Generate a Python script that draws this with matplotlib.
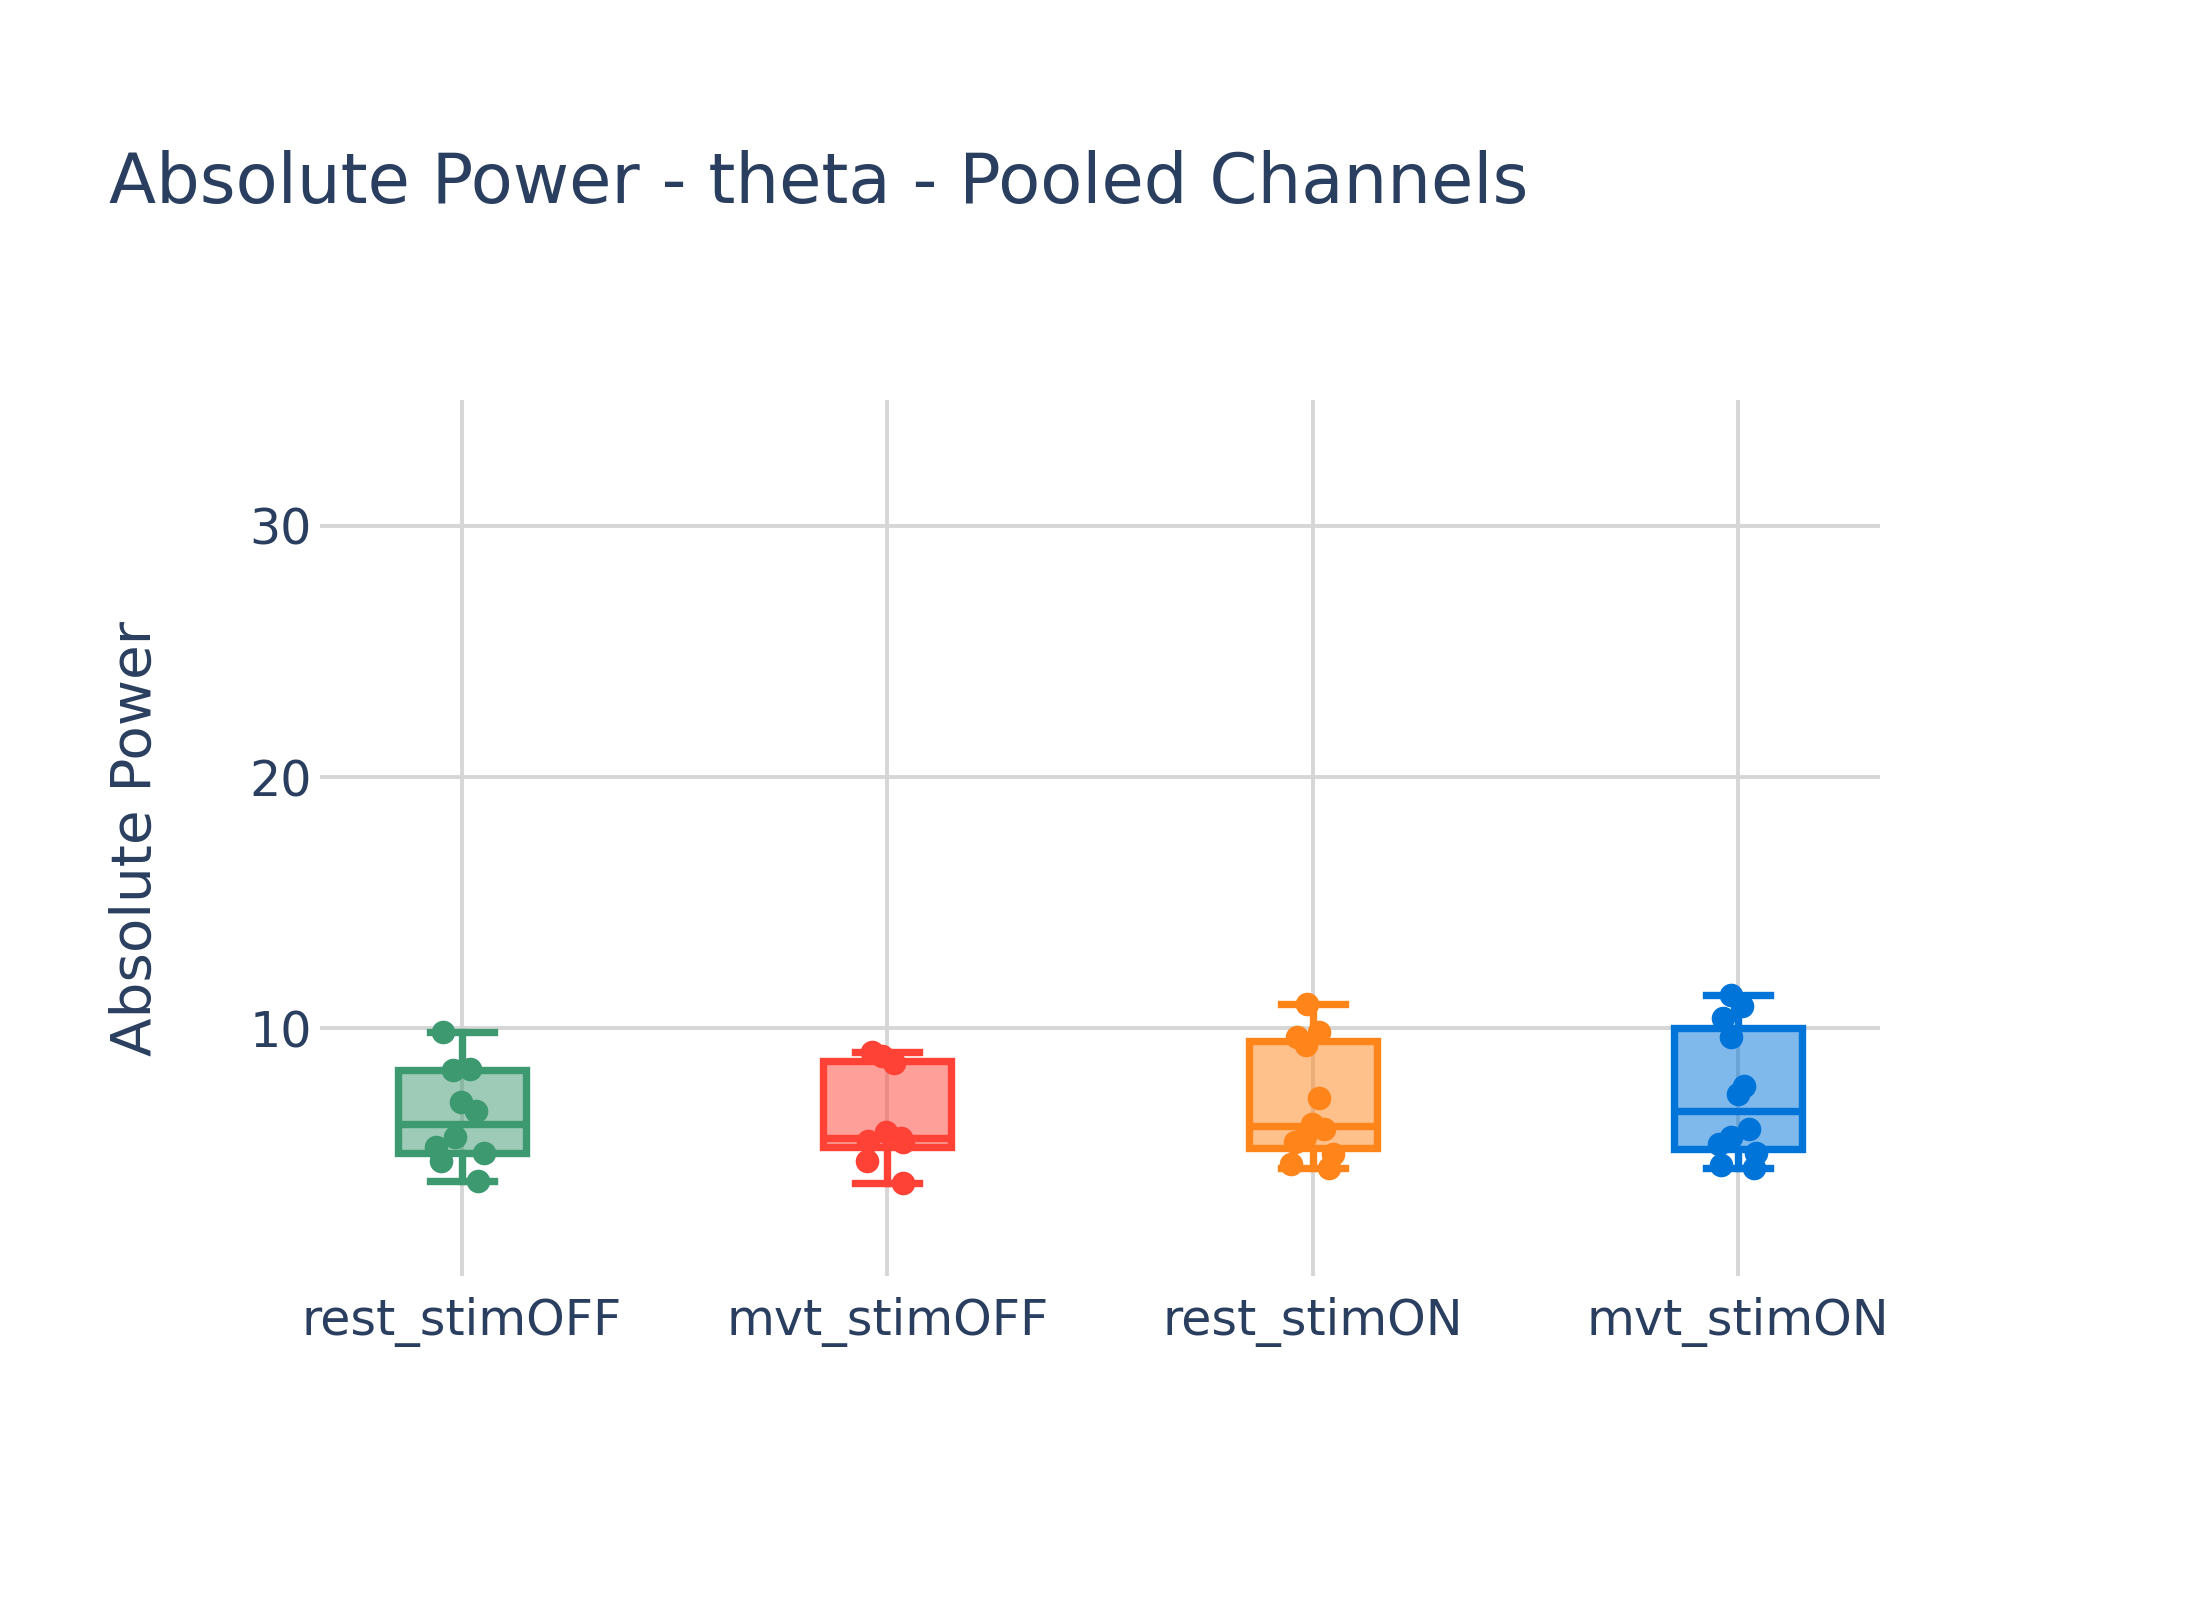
import numpy as np
import matplotlib.pyplot as plt
from matplotlib.colors import to_rgba

plt.rcParams['font.family'] = ['DejaVu Sans']

conditions = ['rest_stimOFF', 'mvt_stimOFF', 'rest_stimON', 'mvt_stimON']
colors = ['#3D9970', '#FF4136', '#FF851B', '#0074D9']

# absolute theta power per recording
rest_stimoff = [9.84, 8.36, 8.40, 7.07, 6.70, 5.67, 5.28, 4.74, 5.04, 3.92]
mvt_stimoff = [9.07, 8.89, 8.62, 5.87, 5.52, 5.65, 5.47, 4.72, 3.85]
rest_stimon = [10.96, 9.87, 9.66, 9.33, 7.23, 6.21, 6.01, 5.67, 5.48, 5.01, 4.60, 4.45]
mvt_stimon = [11.33, 10.89, 10.40, 9.66, 7.70, 7.38, 6.01, 5.67, 5.40, 5.04, 4.55, 4.45]

# horizontal jitter of the points (plotly jitter, as seen in the picture)
rest_stimoff_jit = [-0.045, -0.020, 0.018, -0.002, 0.034, -0.017, -0.060, -0.049, 0.052, 0.037]
mvt_stimoff_jit = [-0.037, -0.012, 0.015, -0.003, -0.046, 0.032, 0.038, -0.048, 0.038]
rest_stimon_jit = [-0.014, 0.014, -0.036, -0.015, 0.015, -0.002, 0.027, -0.018, -0.041, 0.048, -0.050, 0.039]
mvt_stimon_jit = [-0.017, 0.010, -0.035, -0.017, 0.013, -0.001, 0.025, -0.017, -0.045, 0.041, -0.040, 0.037]

groups = [rest_stimoff, mvt_stimoff, rest_stimon, mvt_stimon]
jitters = [rest_stimoff_jit, mvt_stimoff_jit, rest_stimon_jit, mvt_stimon_jit]

text_col = '#2a3f5f'


def box_stats(vals):
    v = np.sort(np.asarray(vals, dtype=float))
    # plotly's default "linear" quartiles == hazen
    q1, med, q3 = np.percentile(v, [25, 50, 75], method='hazen')
    iqr = q3 - q1
    lo = v[v >= q1 - 1.5 * iqr].min()
    hi = v[v <= q3 + 1.5 * iqr].max()
    return dict(med=med, q1=q1, q3=q3, whislo=lo, whishi=hi, fliers=[])


fig = plt.figure(figsize=(11, 8), dpi=200)
ax = fig.add_axes([0.1455, 0.2025, 0.709, 0.5475])

lw = 2.65
for i, (vals, jit, c) in enumerate(zip(groups, jitters, colors)):
    st = box_stats(vals)
    ax.bxp([st], positions=[i], widths=0.30, capwidths=0.15,
           patch_artist=True, showfliers=False,
           boxprops=dict(facecolor=to_rgba(c, 0.5), edgecolor=c, linewidth=lw),
           whiskerprops=dict(color=c, linewidth=lw),
           capprops=dict(color=c, linewidth=lw),
           medianprops=dict(color=c, linewidth=lw))
    ax.plot(i + np.array(jit), vals, 'o', color=c, ms=8.5, mew=0, zorder=5)

ax.set_xlim(-1 / 3, 3 + 1 / 3)
ax.set_ylim(0.15, 35)
ax.set_xticks(range(len(conditions)))
ax.set_xticklabels(conditions)
ax.set_yticks([10, 20, 30])
ax.set_axisbelow(True)
ax.grid(True, color='#d6d6d6', linewidth=1.4)
for s in ax.spines.values():
    s.set_visible(False)
ax.tick_params(axis='both', length=0, labelsize=17.7, colors=text_col)
ax.tick_params(axis='x', pad=7.5)
ax.tick_params(axis='y', pad=3)

fig.text(109 / 2200, 0.873, 'Absolute Power - theta - Pooled Channels',
         fontsize=24.8, color=text_col, ha='left', va='baseline')
fig.text(136 / 2200, 1 - 838 / 1600, 'Absolute Power', rotation=90,
         fontsize=20.3, color=text_col, ha='center', va='center')

fig.savefig('out.png', dpi=200, facecolor='white')
